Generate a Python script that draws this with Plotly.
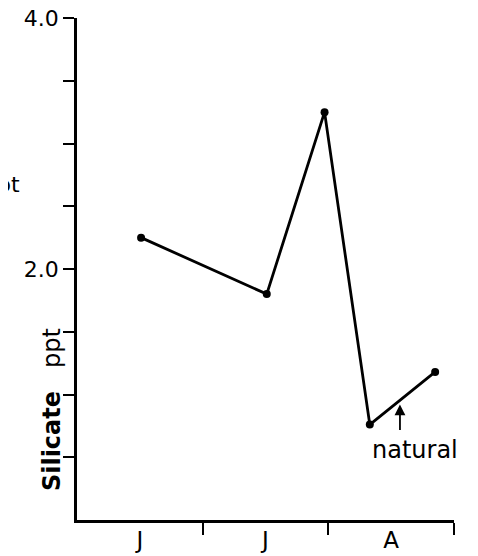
import plotly.graph_objects as go

# sampling dates as fraction of the season (0=start of June, 3=end of August)
sample_x = [0.51, 1.51, 1.97, 2.33, 2.85]
silicate_ppt = [2.25, 1.80, 3.25, 0.76, 1.18]

month_pos = [0.5, 1.5, 2.5]
month_labels = ["J", "J", "A"]
month_bounds = [1, 2, 3]

ytick_vals = [0.5, 1.0, 1.5, 2.0, 2.5, 3.0, 3.5, 4.0]
ytick_text = ["", "", "", "2.0", "", "", "", "4.0"]

font = "DejaVu Sans, sans-serif"

fig = go.Figure()
fig.add_trace(go.Scatter(
    x=sample_x, y=silicate_ppt, mode="lines+markers",
    line=dict(color="black", width=2.8),
    marker=dict(color="black", size=8),
    showlegend=False,
))

fig.update_xaxes(
    range=[0, 3], showgrid=False, zeroline=False, automargin=False,
    showline=True, linecolor="black", linewidth=2.5,
    tickvals=month_pos, ticktext=month_labels, ticks="",
    ticklabeloverflow="allow", ticklabelstandoff=-2,
    tickfont=dict(size=23, color="black", family=font),
    minor=dict(tickvals=month_bounds, ticks="outside", ticklen=12,
               tickwidth=2, tickcolor="black"),
)
fig.update_yaxes(
    range=[0, 4.0], showgrid=False, zeroline=False, automargin=False,
    showline=True, linecolor="black", linewidth=2.5,
    tickvals=ytick_vals, ticktext=ytick_text,
    ticks="outside", ticklen=11, tickwidth=2, tickcolor="black",
    ticklabeloverflow="allow",
    tickfont=dict(size=22, color="black", family=font),
)

fig.add_annotation(
    text="<b>Silicate</b>   ppt", textangle=-90,
    xref="paper", yref="y", x=-0.11, y=0.88,
    showarrow=False, font=dict(size=24, color="black", family=font),
)
# cut-off label from the neighbouring panel
fig.add_annotation(
    text="ppt", xref="paper", yref="y", x=-0.145, y=2.67,
    xanchor="right", showarrow=False,
    font=dict(size=22, color="black", family=font),
)
fig.add_annotation(
    x=2.57, y=0.92, text="", showarrow=True,
    ax=0, ay=27, arrowhead=2, arrowsize=1.2, arrowwidth=1.8,
    arrowcolor="black",
)
fig.add_annotation(
    x=2.69, y=0.56, text="natural", showarrow=False,
    font=dict(size=24, color="black", family=font),
)

# page body adds an 8px offset, so the figure is sized to fit inside it
fig.update_layout(
    width=470, height=548,
    margin=dict(l=69, r=24, t=10, b=36),
    paper_bgcolor="white", plot_bgcolor="white",
)

fig.write_html("out.html")
